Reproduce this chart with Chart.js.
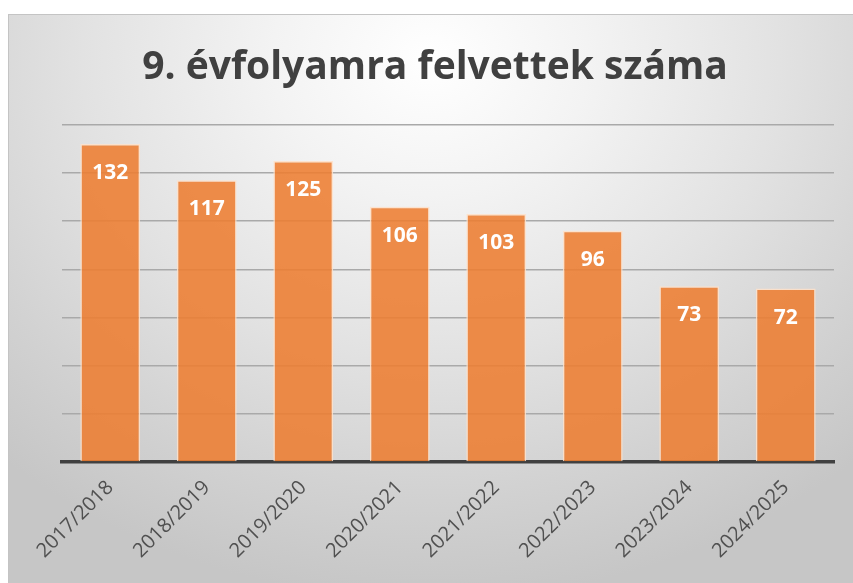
<!DOCTYPE html>
<html>
<head>
<meta charset="utf-8">
<script src="https://cdn.jsdelivr.net/npm/chart.js@4"></script>
<style>
  html, body { margin: 0; padding: 0; background: #ffffff; width: 853px; height: 583px; overflow: hidden; }
  #wrap {
    position: absolute; left: 8px; top: 14px; width: 845px; height: 569px;
    background: radial-gradient(ellipse 75% 95% at 50% 8%, #ffffff 0%, #f3f3f3 25%, #e2e2e2 55%, #d2d2d2 80%, #c6c6c6 100%);
    box-shadow: inset 1px 1px 0 #c4c4c4;
  }
  canvas { display: block; }
</style>
</head>
<body>
<div id="wrap"><canvas id="c" width="845" height="569"></canvas></div>
<script>
const titleText = "9. évfolyamra felvettek száma";
const categories = ["2017/2018", "2018/2019", "2019/2020", "2020/2021", "2021/2022", "2022/2023", "2023/2024", "2024/2025"];
const values = [132, 117, 125, 106, 103, 96, 73, 72];
const yMin = 0, yMax = 140, yStep = 20;

const barLabels = {
  id: 'barLabels',
  afterDatasetsDraw(chart) {
    const ctx = chart.ctx;
    const meta = chart.getDatasetMeta(0);
    ctx.save();
    ctx.fillStyle = '#ffffff';
    ctx.font = 'bold 21px "Open Sans"';
    ctx.textAlign = 'center';
    ctx.textBaseline = 'middle';
    meta.data.forEach((bar, i) => {
      ctx.fillText(String(chart.data.datasets[0].data[i]), bar.x, bar.y + 29);
    });
    ctx.restore();
  }
};

new Chart(document.getElementById('c'), {
  type: 'bar',
  data: {
    labels: categories,
    datasets: [{
      data: values,
      backgroundColor: 'rgba(237,125,49,0.88)',
      borderColor: 'rgba(255,225,200,0.85)',
      borderWidth: 1.5,
      barPercentage: 0.62,
      categoryPercentage: 1.0
    }]
  },
  options: {
    responsive: false,
    animation: false,
    layout: { padding: { left: 9, right: 0, top: 0, bottom: 0 } },
    plugins: {
      legend: { display: false },
      tooltip: { enabled: false },
      title: {
        display: true,
        text: titleText,
        color: '#404040',
        font: { family: '"Open Sans"', size: 39, weight: 'bold', lineHeight: 1.2 },
        padding: { top: 30, bottom: 34 }
      }
    },
    scales: {
      y: {
        min: yMin, max: yMax,
        ticks: { display: false, stepSize: yStep },
        border: { display: false },
        grid: { color: '#a9a9a9', lineWidth: 1.5, drawTicks: false },
        afterFit(s) { s.width = 45; }
      },
      y2: {
        position: 'right',
        min: yMin, max: yMax,
        ticks: { display: false },
        border: { display: false },
        grid: { display: false, drawTicks: false },
        afterFit(s) { s.width = 19; }
      },
      x: {
        ticks: {
          color: '#505050',
          font: { family: '"Open Sans"', size: 20 },
          minRotation: 45, maxRotation: 45,
          padding: 14
        },
        grid: { display: false, drawTicks: false },
        border: { display: true, color: '#404040', width: 3.5 },
        afterFit(s) { s.height = 121; }
      }
    }
  },
  plugins: [barLabels]
});
</script>
</body>
</html>
